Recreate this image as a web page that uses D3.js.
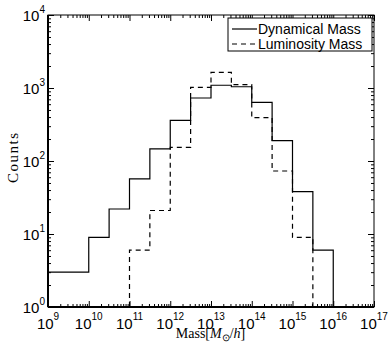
<!DOCTYPE html>
<html>
<head>
<meta charset="utf-8">
<script src="https://cdn.jsdelivr.net/npm/d3@7"></script>
<style>
  body { margin: 0; background: #fff; }
  svg { display: block; }
</style>
</head>
<body>
<div id="plot"></div>
<script>
// bin edges and counts
var dynEdges = [1e9, 1e10, 3.16e10, 1e11, 3.16e11, 1e12, 3.16e12, 1e13, 3.16e13, 1e14, 3.16e14, 1e15, 3.16e15, 1e16];
var dynCounts = [3, 9, 22, 57, 147, 361, 730, 1090, 1040, 637, 190, 38, 6];

var lumEdges = [1e11, 3.16e11, 1e12, 3.16e12, 1e13, 3.16e13, 1e14, 3.16e14, 1e15, 3.16e15];
var lumCounts = [6, 21, 154, 1020, 1640, 1110, 392, 73, 9];

var xExps = [9, 10, 11, 12, 13, 14, 15, 16, 17];
var yExps = [0, 1, 2, 3, 4];
var legendText = ["Dynamical Mass", "Luminosity Mass"];

var W = 388, H = 346;
var plotL = 48, plotR = 374, plotT = 15, plotB = 307;

var x = d3.scaleLog().domain([1e9, 1e17]).range([plotL, plotR]);
var y = d3.scaleLog().domain([1, 1e4]).range([plotB, plotT]);

var svg = d3.select('#plot').append('svg')
    .attr('width', W)
    .attr('height', H);

svg.append('defs').append('clipPath').attr('id', 'clip')
  .append('rect')
    .attr('x', plotL).attr('y', plotT)
    .attr('width', plotR - plotL).attr('height', plotB - plotT);

// major / minor tick values
var xMajor = xExps.map(function(e) { return Math.pow(10, e); });
var xMinor = [];
for (var e = 9; e < 17; e++) for (var m = 2; m < 10; m++) xMinor.push(m * Math.pow(10, e));
var yMajor = yExps.map(function(e) { return Math.pow(10, e); });
var yMinor = [];
for (var e = 0; e < 4; e++) for (var m = 2; m < 10; m++) yMinor.push(m * Math.pow(10, e));

function drawAxis(axisFn, scale, vals, size, tx, ty) {
    var g = svg.append('g')
        .attr('transform', 'translate(' + tx + ',' + ty + ')')
        .call(axisFn(scale).tickValues(vals).tickSizeInner(size).tickSizeOuter(0).tickFormat(''));
    g.select('.domain').remove();
    g.selectAll('line').attr('stroke', '#000').attr('stroke-width', 1);
    return g;
}

// ticks on all four sides, pointing inward
drawAxis(d3.axisBottom, x, xMajor, -6, 0, plotB);
drawAxis(d3.axisBottom, x, xMinor, -3, 0, plotB);
drawAxis(d3.axisTop, x, xMajor, -6, 0, plotT);
drawAxis(d3.axisTop, x, xMinor, -3, 0, plotT);
drawAxis(d3.axisLeft, y, yMajor, -6, plotL, 0);
drawAxis(d3.axisLeft, y, yMinor, -3, plotL, 0);
drawAxis(d3.axisRight, y, yMajor, -6, plotR, 0);
drawAxis(d3.axisRight, y, yMinor, -3, plotR, 0);

// histogram steps
function stepPoints(edges, counts) {
    var pts = [[edges[0], 1]];
    for (var i = 0; i < counts.length; i++) {
        pts.push([edges[i], counts[i]]);
        pts.push([edges[i + 1], counts[i]]);
    }
    pts.push([edges[edges.length - 1], 1]);
    return pts;
}

var line = d3.line()
    .x(function(d) { return x(d[0]); })
    .y(function(d) { return y(d[1]); });

svg.append('path')
    .attr('clip-path', 'url(#clip)')
    .attr('d', line(stepPoints(dynEdges, dynCounts)))
    .attr('fill', 'none')
    .attr('stroke', '#000')
    .attr('stroke-width', 1.2);

svg.append('path')
    .attr('clip-path', 'url(#clip)')
    .attr('d', line(stepPoints(lumEdges, lumCounts)))
    .attr('fill', 'none')
    .attr('stroke', '#000')
    .attr('stroke-width', 1.2)
    .attr('stroke-dasharray', '5,4');

// frame
svg.append('rect')
    .attr('x', plotL).attr('y', plotT)
    .attr('width', plotR - plotL).attr('height', plotB - plotT)
    .attr('fill', 'none')
    .attr('stroke', '#000')
    .attr('stroke-width', 1);
svg.append('line')
    .attr('x1', plotL).attr('x2', plotL).attr('y1', plotT).attr('y2', plotB)
    .attr('stroke', '#000').attr('stroke-width', 2);
svg.append('line')
    .attr('x1', plotL).attr('x2', plotR).attr('y1', plotB).attr('y2', plotB)
    .attr('stroke', '#000').attr('stroke-width', 2);

// tick labels
var sans = 'Liberation Sans, Arial, sans-serif';
var xl = svg.append('g').selectAll('text').data(xExps).enter().append('text')
    .attr('x', function(d) { return x(Math.pow(10, d)); })
    .attr('y', plotB + 22)
    .attr('text-anchor', 'middle')
    .style('font-family', sans)
    .style('font-size', '15px');
xl.append('tspan').text('10');
xl.append('tspan').attr('dy', -9).style('font-size', '10px').text(function(d) { return d; });

var yl = svg.append('g').selectAll('text').data(yExps).enter().append('text')
    .attr('x', plotL - 3)
    .attr('y', function(d) { return y(Math.pow(10, d)) + 6; })
    .attr('text-anchor', 'end')
    .style('font-family', sans)
    .style('font-size', '15px');
yl.append('tspan').text('10');
yl.append('tspan').attr('dy', -8).style('font-size', '10px').text(function(d) { return d; });

// axis titles
var serif = 'Liberation Serif, Times New Roman, serif';
svg.append('text')
    .attr('transform', 'translate(18,' + 158 + ') rotate(-90)')
    .attr('text-anchor', 'middle')
    .attr('textLength', 50)
    .attr('lengthAdjust', 'spacing')
    .style('font-family', serif)
    .style('font-size', '15px')
    .text('Counts');

var xt = svg.append('text')
    .attr('x', 210.5)
    .attr('y', 338)
    .attr('text-anchor', 'middle')
    .style('font-family', serif)
    .style('font-size', '14px');
xt.append('tspan').text('Mass[');
xt.append('tspan').style('font-style', 'italic').text('M');
xt.append('tspan').attr('dy', 3).style('font-size', '10px').text('\u2299');
xt.append('tspan').attr('dy', -3).text('/');
xt.append('tspan').style('font-style', 'italic').text('h');
xt.append('tspan').text(']');

// legend
var lg = svg.append('g');
lg.append('rect')
    .attr('x', 228).attr('y', 18)
    .attr('width', 144).attr('height', 33)
    .attr('fill', '#fff')
    .attr('stroke', '#000')
    .attr('stroke-width', 1);

var items = lg.selectAll('.legend').data(legendText).enter().append('g')
    .attr('class', 'legend')
    .attr('transform', function(d, i) { return 'translate(0,' + (29 + i * 15) + ')'; });

items.append('line')
    .attr('x1', 232).attr('x2', 257)
    .attr('stroke', '#000')
    .attr('stroke-width', 1.2)
    .attr('stroke-dasharray', function(d, i) { return i ? '5,4' : null; });

items.append('text')
    .attr('x', 258)
    .attr('dy', '.36em')
    .style('font-family', sans)
    .style('font-size', '14px')
    .text(function(d) { return d; });
</script>
</body>
</html>
